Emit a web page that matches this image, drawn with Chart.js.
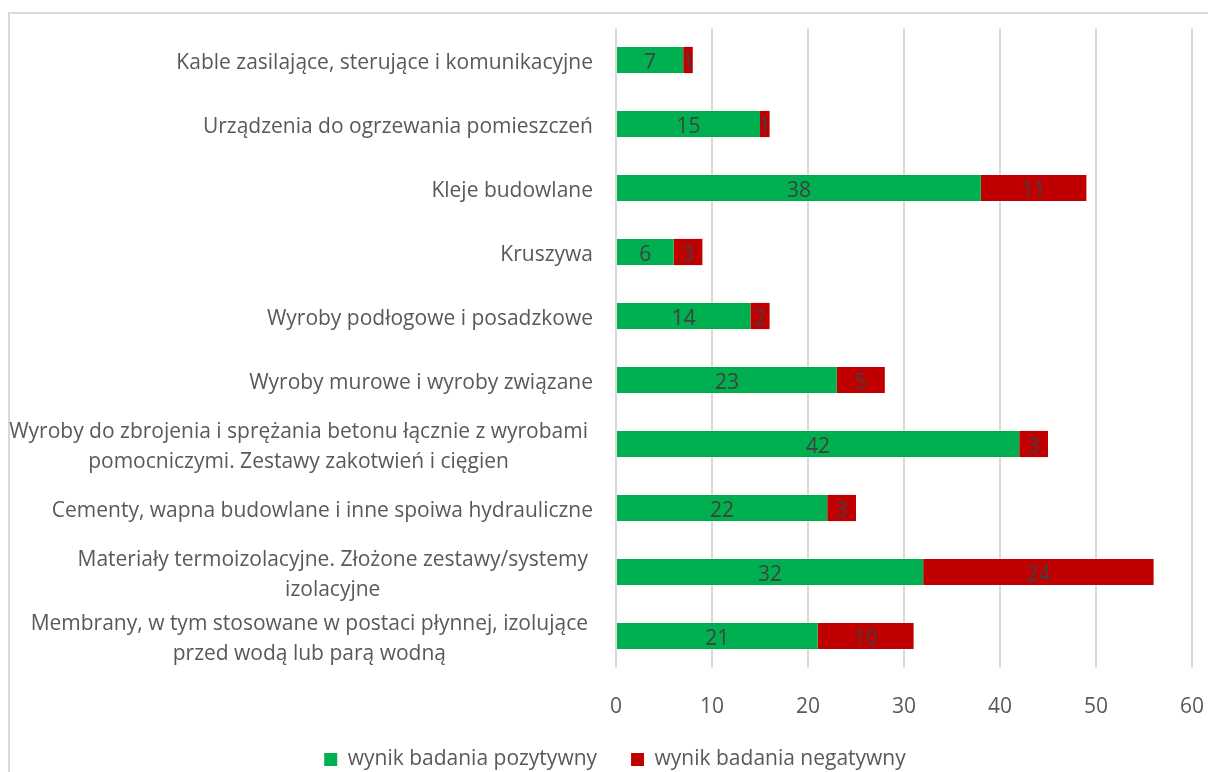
<!DOCTYPE html>
<html><head><meta charset="utf-8">
<script src="https://cdn.jsdelivr.net/npm/chart.js@4/dist/chart.umd.min.js"></script>
<style>html,body{margin:0;padding:0;background:#fff;} canvas{display:block;}</style>
</head><body><canvas id="c" width="1208" height="772"></canvas>
<script>
const categories = [
  ["Kable zasilające, sterujące i komunikacyjne"],
  ["Urządzenia do ogrzewania pomieszczeń"],
  ["Kleje budowlane"],
  ["Kruszywa"],
  ["Wyroby podłogowe i posadzkowe"],
  ["Wyroby murowe i wyroby związane"],
  ["Wyroby do zbrojenia i sprężania betonu łącznie z wyrobami", "pomocniczymi. Zestawy zakotwień i cięgien"],
  ["Cementy, wapna budowlane i inne spoiwa hydrauliczne"],
  ["Materiały termoizolacyjne. Złożone zestawy/systemy", "izolacyjne"],
  ["Membrany, w tym stosowane w postaci płynnej, izolujące", "przed wodą lub parą wodną"]
];
const positive = [7, 15, 38, 6, 14, 23, 42, 22, 32, 21];
const negative = [1, 1, 11, 3, 2, 5, 3, 3, 24, 10];
const seriesNames = ["wynik badania pozytywny", "wynik badania negatywny"];
const seriesColors = ["#00B050", "#C00000"];
const xMin = 0, xMax = 60, xStep = 10;

const FONT = '"Open Sans", sans-serif';
const FSIZE = 21;

const framePlugin = {
  id: 'frame',
  beforeDraw(chart) {
    const ctx = chart.ctx;
    ctx.save();
    ctx.strokeStyle = '#d9d9d9';
    ctx.lineWidth = 2;
    ctx.beginPath();
    ctx.moveTo(9, 800); ctx.lineTo(9, 13); ctx.lineTo(1260, 13);
    ctx.stroke();
    ctx.restore();
  }
};

const catLabelPlugin = {
  id: 'catLabels',
  afterDraw(chart) {
    const ctx = chart.ctx, ys = chart.scales.y;
    ctx.save();
    ctx.font = FSIZE + 'px ' + FONT;
    ctx.fillStyle = '#595959';
    ctx.textBaseline = 'middle';
    const lh = 30;
    categories.forEach((lines, i) => {
      const y = ys.getPixelForValue(i) + 3;
      if (lines.length === 1) {
        ctx.textAlign = 'right';
        ctx.fillText(lines[0], 593, y);
      } else {
        const bw = Math.max(...lines.map(l => ctx.measureText(l).width));
        const cx = 588 - bw / 2;
        ctx.textAlign = 'center';
        lines.forEach((l, k) => {
          ctx.fillText(l, cx, y - lh * (lines.length - 1) / 2 + k * lh);
        });
      }
    });
    ctx.restore();
  }
};

const dataLabelPlugin = {
  id: 'dataLabels',
  afterDatasetsDraw(chart) {
    const ctx = chart.ctx;
    ctx.save();
    ctx.font = FSIZE + 'px ' + FONT;
    ctx.fillStyle = '#404040';
    ctx.textAlign = 'center';
    ctx.textBaseline = 'middle';
    chart.data.datasets.forEach((ds, di) => {
      const meta = chart.getDatasetMeta(di);
      meta.data.forEach((el, i) => {
        const cx = (el.x + el.base) / 2;
        ctx.fillText(String(ds.data[i]), cx, el.y + 3);
      });
    });
    ctx.restore();
  }
};

new Chart(document.getElementById('c'), {
  type: 'bar',
  data: {
    labels: categories,
    datasets: [
      { label: seriesNames[0], data: positive, backgroundColor: seriesColors[0], borderWidth: 0, barPercentage: 0.41, categoryPercentage: 1 },
      { label: seriesNames[1], data: negative, backgroundColor: seriesColors[1], borderWidth: 0, barPercentage: 0.41, categoryPercentage: 1 }
    ]
  },
  options: {
    indexAxis: 'y',
    responsive: false,
    animation: false,
    devicePixelRatio: 1,
    layout: { padding: { top: 28, right: 16, left: 38, bottom: 0 } },
    scales: {
      x: {
        stacked: true, min: xMin, max: xMax,
        ticks: { stepSize: xStep, color: '#595959', font: { family: FONT, size: FSIZE }, padding: 2 },
        grid: { color: '#d9d9d9', lineWidth: 2, drawTicks: true, tickLength: 24, tickColor: 'rgba(0,0,0,0)' },
        border: { display: false },
        afterFit(s) { s.height = 47; }
      },
      y: {
        stacked: true,
        ticks: { display: false },
        grid: { display: false },
        border: { display: false },
        afterFit(s) { s.width = 578; }
      }
    },
    plugins: {
      legend: {
        position: 'bottom',
        maxHeight: 57,
        labels: { boxWidth: 13, boxHeight: 13, padding: 34, color: '#595959', font: { family: FONT, size: FSIZE } }
      },
      tooltip: { enabled: false }
    }
  },
  plugins: [framePlugin, catLabelPlugin, dataLabelPlugin]
});
</script>
</body></html>
